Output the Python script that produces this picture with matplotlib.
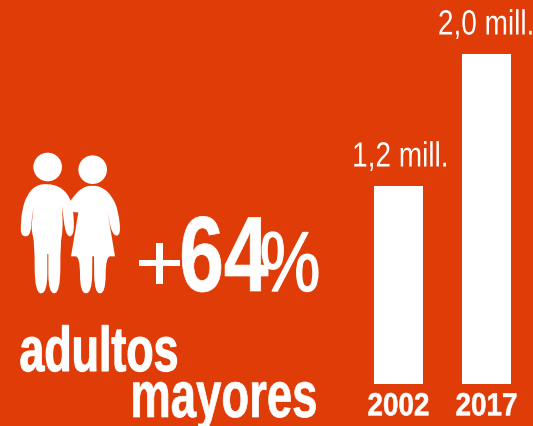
import matplotlib
matplotlib.use("Agg")
import matplotlib.pyplot as plt
import matplotlib.patheffects as pe
from matplotlib.patches import Circle, PathPatch
from matplotlib.path import Path
from matplotlib.transforms import Affine2D

# Chart data
years = ["2002", "2017"]
adults_mill = [1.2, 2.0]
value_labels = ["1,2 mill.", "2,0 mill."]

BG = "#E03C08"
FONT = "Liberation Sans"

# Icon outlines, traced in 3x zoom coordinates (doubled points keep a corner sharp)
man = [(98, 103), (60, 110), (35, 140), (22, 180), (17, 225), (18, 262), (46, 262),
       (50, 210), (57, 170), (57, 170), (51, 215), (49, 245), (59, 280), (59, 433), (97, 433),
       (97, 315), (97, 315), (100, 315), (100, 315), (100, 433), (136, 433), (136, 280),
       (144, 245), (141, 170), (141, 170), (152, 262), (177, 262), (176, 190), (168, 150),
       (140, 115)]
woman = [(160, 165), (175, 143), (200, 116), (233, 108), (265, 116), (292, 143), (310, 185),
         (318, 260), (292, 260), (278, 190), (278, 190), (300, 322), (300, 322), (272, 322),
         (272, 433), (238, 433), (237, 322), (237, 322), (232, 322), (232, 322), (231, 433),
         (195, 433), (195, 322), (168, 322), (168, 322), (190, 190), (190, 190), (172, 190)]
heads = [(98, 54), (233, 62)]


class Squeeze(pe.AbstractPathEffect):
    # narrows the glyphs around the middle of the string, with an optional white stroke
    def __init__(self, sx, stroke=0):
        super().__init__()
        self.sx = sx
        self.stroke = stroke

    def draw_path(self, renderer, gc, tpath, affine, rgbFace=None):
        ext = tpath.get_extents()
        cx = (ext.x0 + ext.x1) / 2
        squeeze = Affine2D().translate(-cx, 0).scale(self.sx, 1).translate(cx, 0)
        gc0 = renderer.new_gc()
        gc0.copy_properties(gc)
        gc0.set_foreground("white")
        gc0.set_linewidth(self.stroke)
        renderer.draw_path(gc0, tpath, squeeze + affine, rgbFace)
        gc0.restore()


def px(pt):
    return pt[0] / 3 + 15, pt[1] / 3 + 150


def smooth(points):
    # closed quadratic spline through the midpoints of the outline
    pts = [px(p) for p in points]
    n = len(pts)
    mid = lambda a, b: ((a[0] + b[0]) / 2, (a[1] + b[1]) / 2)
    verts = [mid(pts[-1], pts[0])]
    codes = [Path.MOVETO]
    for i in range(n):
        verts += [pts[i], mid(pts[i], pts[(i + 1) % n])]
        codes += [Path.CURVE3, Path.CURVE3]
    return Path(verts, codes)


def size(pixels):
    return pixels * 0.72


fig = plt.figure(figsize=(5.33, 4.27), dpi=100, facecolor=BG)

# Overlay in pixel coordinates for the icon and headline text
ov = fig.add_axes([0, 0, 1, 1])
ov.set_xlim(0, 533)
ov.set_ylim(427, 0)
ov.axis("off")

for shape in (man, woman):
    ov.add_patch(PathPatch(smooth(shape), fc="white", ec="none"))
for h in heads:
    ov.add_patch(Circle(px(h), 14.3, fc="white", ec="none"))


def headline(x, y, s, pixels, sx, stroke=0, weight="normal"):
    ov.text(x, y, s, color="white", fontsize=size(pixels), family=FONT, weight=weight,
            ha="center", va="baseline", path_effects=[Squeeze(sx, stroke)])


headline(159.5, 292, "+", 84, 1.0)
headline(223.5, 292, "64", 107, 0.75, 0.5, "bold")
headline(290, 292, "%", 85, 0.8, 1.0)
headline(99, 372, "adultos", 63, 0.71, 0.8, "bold")
headline(223.5, 418, "mayores", 65, 0.70, 0.5, "bold")

# Bars
ax = fig.add_axes([354.5 / 533, (427 - 385) / 427, 176 / 533, 330 / 427])
ax.patch.set_alpha(0)
bars = ax.bar(range(len(years)), adults_mill, width=0.557, color="white")
ax.set_xlim(-0.5, 1.5)
ax.set_ylim(0, 2.0)
ax.set_yticks([])
ax.set_xticks(range(len(years)), years, family=FONT, weight="bold",
              fontsize=size(32), color="white")
ax.tick_params(axis="x", length=0, pad=6)
for s in ax.spines.values():
    s.set_visible(False)
for lab in ax.get_xticklabels():
    lab.set_path_effects([Squeeze(0.87, 0.4)])

anns = ax.bar_label(bars, labels=value_labels, padding=9, color="white", family=FONT,
                    fontsize=size(35), clip_on=False, path_effects=[Squeeze(0.8, 0)])
anns[0].xyann = (1.5, 9)  # first label sits a little right of its bar centre

fig.savefig("out.png", dpi=100, facecolor=BG)
